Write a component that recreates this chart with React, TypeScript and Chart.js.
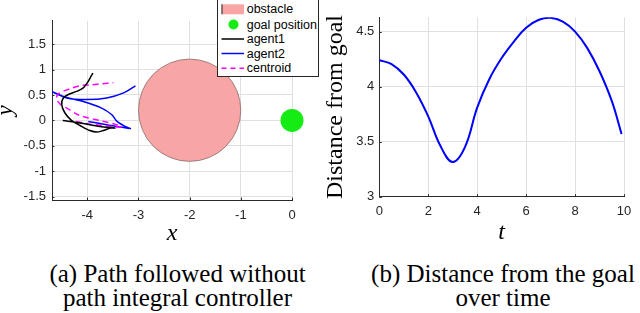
import React, { useEffect, useRef } from "react";
import { Chart, registerables } from "chart.js";

Chart.register(...registerables);

// ---------- (a) path plot data ----------
const agent1X = [-4.48, -4.14, -3.75, -3.46, -3.55, -3.69, -3.82, -3.95, -4.14, -4.31, -4.44, -4.5, -4.47, -4.37, -4.21, -4.08, -3.98, -3.92, -3.89];
const agent1Y = [0.0, -0.05, -0.12, -0.15, -0.15, -0.2, -0.23, -0.2, -0.1, 0.0, 0.15, 0.31, 0.44, 0.51, 0.57, 0.64, 0.77, 0.88, 0.93];

const agent2X = [-3.98, -3.6, -3.16, -3.26, -3.42, -3.52, -3.72, -4.08, -4.47, -4.76, -4.4, -4.01, -3.62, -3.29, -3.06];
const agent2Y = [-0.02, -0.09, -0.16, -0.12, -0.02, 0.11, 0.24, 0.37, 0.47, 0.6, 0.44, 0.41, 0.44, 0.54, 0.68];

const centroidX = [-4.22, -3.98, -3.6, -3.33, -3.45, -3.72, -3.98, -4.18, -4.4, -4.52, -4.6, -4.57, -4.34, -4.11, -3.91, -3.72, -3.49];
const centroidY = [-0.02, -0.07, -0.11, -0.13, -0.08, -0.01, 0.05, 0.11, 0.24, 0.31, 0.42, 0.52, 0.62, 0.69, 0.7, 0.72, 0.74];

const obstacleCenter = [-2, 0.2];
const obstacleRadius = 1;
const goalPosition = [0, 0];

const pathXTicks = [-4, -3, -2, -1, 0];
const pathYTicks = [-1.5, -1, -0.5, 0, 0.5, 1, 1.5];
const pathXRange = [-4.69, 0];
const pathYRange = [-1.565, 1.96];

// ---------- (b) distance plot data ----------
const timeValues = [0, 0.5, 1, 1.5, 2, 2.5, 3, 3.5, 4, 4.5, 5, 5.5, 6, 6.5, 7, 7.5, 8, 8.5, 9, 9.5, 9.9];
const distanceValues = [4.24, 4.205, 4.11, 3.95, 3.73, 3.46, 3.315, 3.45, 3.81, 4.07, 4.26, 4.41, 4.535, 4.605, 4.625, 4.59, 4.5, 4.35, 4.14, 3.87, 3.57];
const timeTicks = [0, 2, 4, 6, 8, 10];
const distanceTicks = [3, 3.5, 4, 4.5];

const TICK_FONT = { family: "'Liberation Sans', Arial, sans-serif", size: 13 };
const TICK_COLOR = "#262626";
const GRID_COLOR = "#e0e0e0";
const AXIS_COLOR = "#2b2b2b";

function pts(xs: number[], ys: number[]) {
  return xs.map((x, i) => ({ x, y: ys[i] }));
}

function fixedTicks(values: number[]) {
  return (scale: any) => {
    scale.ticks = values.map((v) => ({ value: v }));
  };
}

// MATLAB-style small tick marks pointing inside the axes
const innerTicks = {
  id: "innerTicks",
  afterDatasetsDraw(chart: any) {
    const { ctx, chartArea, scales } = chart;
    ctx.save();
    ctx.strokeStyle = AXIS_COLOR;
    ctx.lineWidth = 1;
    ctx.beginPath();
    for (const t of scales.x.ticks) {
      const px = Math.round(scales.x.getPixelForValue(t.value)) + 0.5;
      ctx.moveTo(px, chartArea.bottom);
      ctx.lineTo(px, chartArea.bottom - 2.5);
    }
    for (const t of scales.y.ticks) {
      const py = Math.round(scales.y.getPixelForValue(t.value)) + 0.5;
      ctx.moveTo(chartArea.left, py);
      ctx.lineTo(chartArea.left + 2.5, py);
    }
    ctx.stroke();
    ctx.restore();
  },
};

export default function App() {
  const leftRef = useRef<HTMLCanvasElement | null>(null);
  const rightRef = useRef<HTMLCanvasElement | null>(null);

  useEffect(() => {
    const left = new Chart(leftRef.current as HTMLCanvasElement, {
      type: "scatter",
      plugins: [innerTicks],
      data: {
        datasets: [
          {
            label: "goal position",
            data: [{ x: goalPosition[0], y: goalPosition[1] }],
            pointRadius: 11.5,
            pointBackgroundColor: "rgb(20,236,20)",
            pointBorderColor: "rgb(20,236,20)",
            pointBorderWidth: 0,
            clip: false as any,
          },
          {
            label: "agent1",
            data: pts(agent1X, agent1Y),
            showLine: true,
            pointRadius: 0,
            borderColor: "#000000",
            borderWidth: 1.5,
            tension: 0.3,
          },
          {
            label: "centroid",
            data: pts(centroidX, centroidY),
            showLine: true,
            pointRadius: 0,
            borderColor: "#ff00ff",
            borderWidth: 1.5,
            borderDash: [6, 4],
            tension: 0.3,
          },
          {
            label: "agent2",
            data: pts(agent2X, agent2Y),
            showLine: true,
            pointRadius: 0,
            borderColor: "#0000ff",
            borderWidth: 1.5,
            tension: 0.3,
          },
          {
            label: "obstacle",
            data: [{ x: obstacleCenter[0], y: obstacleCenter[1] }],
            pointRadius: (ctx: any) => {
              const s = ctx.chart.scales.x;
              return Math.abs(
                s.getPixelForValue(obstacleCenter[0] + obstacleRadius) - s.getPixelForValue(obstacleCenter[0])
              );
            },
            pointBackgroundColor: "#f8a5a5",
            pointBorderColor: "rgba(60,60,60,0.6)",
            pointBorderWidth: 0.8,
            clip: false as any,
          },
        ],
      },
      options: {
        animation: false,
        responsive: false,
        events: [],
        layout: { padding: { top: 20.7, right: 28, left: 0, bottom: 0 } },
        plugins: { legend: { display: false }, tooltip: { enabled: false } },
        scales: {
          x: {
            type: "linear",
            min: pathXRange[0],
            max: pathXRange[1],
            afterBuildTicks: fixedTicks(pathXTicks),
            afterFit: (s: any) => {
              s.height = 50;
            },
            grid: { color: GRID_COLOR, drawTicks: false },
            border: { color: AXIS_COLOR, width: 1 },
            ticks: {
              font: TICK_FONT,
              color: TICK_COLOR,
              padding: 8,
              autoSkip: false,
              maxRotation: 0,
              callback: (v: any) => String(v),
            },
            title: {
              display: true,
              text: "x",
              color: "#000",
              font: { family: "'Liberation Serif', serif", style: "italic", size: 24, lineHeight: 1 },
              padding: { top: 0, bottom: 4.4 },
            },
          },
          y: {
            type: "linear",
            min: pathYRange[0],
            max: pathYRange[1],
            afterBuildTicks: fixedTicks(pathYTicks),
            afterFit: (s: any) => {
              s.width = 52;
            },
            grid: { color: GRID_COLOR, drawTicks: false },
            border: { color: AXIS_COLOR, width: 1 },
            ticks: {
              font: TICK_FONT,
              color: TICK_COLOR,
              padding: 6,
              autoSkip: false,
              callback: (v: any) => String(v),
            },
            title: {
              display: true,
              text: "y",
              color: "#000",
              font: { family: "'Liberation Serif', serif", style: "italic", size: 23, lineHeight: 0.5 },
              padding: { top: 0, bottom: 0 },
            },
          },
        },
      } as any,
    });

    const right = new Chart(rightRef.current as HTMLCanvasElement, {
      type: "scatter",
      plugins: [innerTicks],
      data: {
        datasets: [
          {
            label: "distance",
            data: pts(timeValues, distanceValues),
            showLine: true,
            pointRadius: 0,
            borderColor: "#0000ff",
            borderWidth: 2,
            tension: 0.4,
          },
        ],
      },
      options: {
        animation: false,
        responsive: false,
        events: [],
        layout: { padding: { top: 17.3, right: 16, left: 0, bottom: 0 } },
        plugins: { legend: { display: false }, tooltip: { enabled: false } },
        scales: {
          x: {
            type: "linear",
            min: 0,
            max: 10,
            afterBuildTicks: fixedTicks(timeTicks),
            afterFit: (s: any) => {
              s.height = 53.3;
            },
            grid: { color: GRID_COLOR, drawTicks: false },
            border: { color: AXIS_COLOR, width: 1 },
            ticks: {
              font: TICK_FONT,
              color: TICK_COLOR,
              padding: 7,
              autoSkip: false,
              maxRotation: 0,
              callback: (v: any) => String(v),
            },
            title: {
              display: true,
              text: "t",
              color: "#000",
              font: { family: "'Liberation Serif', serif", style: "italic", size: 24, lineHeight: 1 },
              padding: { top: 0, bottom: 5.7 },
            },
          },
          y: {
            type: "linear",
            min: 3,
            max: 4.63,
            afterBuildTicks: fixedTicks(distanceTicks),
            afterFit: (s: any) => {
              s.width = 59.3;
            },
            grid: { color: GRID_COLOR, drawTicks: false },
            border: { color: AXIS_COLOR, width: 1 },
            ticks: {
              font: TICK_FONT,
              color: TICK_COLOR,
              padding: 5,
              autoSkip: false,
              callback: (v: any) => String(v),
            },
            title: {
              display: true,
              text: "Distance from goal",
              color: "#000",
              font: { family: "'Liberation Serif', serif", size: 24, lineHeight: 1 },
              padding: { top: 4, bottom: 0 },
            },
          },
        },
      } as any,
    });

    return () => {
      left.destroy();
      right.destroy();
    };
  }, []);

  const legendText: React.CSSProperties = {
    position: "absolute",
    left: 28.7,
    height: 14,
    lineHeight: "14px",
    fontFamily: "'Liberation Sans', Arial, sans-serif",
    fontSize: 12.5,
    color: "#000",
    whiteSpace: "nowrap",
  };

  const caption: React.CSSProperties = {
    position: "absolute",
    width: 320,
    textAlign: "center",
    fontFamily: "'Liberation Serif', 'Times New Roman', serif",
    fontSize: 25,
    lineHeight: "24px",
    whiteSpace: "nowrap",
    color: "#000",
  };

  return (
    <div
      style={{
        position: "fixed",
        left: 0,
        top: 0,
        width: 640,
        height: 313,
        overflow: "hidden",
        background: "#fff",
      }}
    >
      <canvas
        ref={leftRef}
        width={320}
        height={250}
        style={{ position: "absolute", left: 0, top: 0, width: 320, height: 250 }}
      />
      <canvas
        ref={rightRef}
        width={320}
        height={250}
        style={{ position: "absolute", left: 320, top: 0, width: 320, height: 250 }}
      />
      <div
        style={{
          position: "absolute",
          left: 217,
          top: -1,
          width: 102,
          height: 78,
          boxSizing: "border-box",
          border: "1px solid #262626",
          background: "#fff",
        }}
      >
        <svg width={30} height={76} style={{ position: "absolute", left: 0, top: 0 }}>
          <rect x={3.5} y={4.3} width={22.6} height={10} fill="#f8a5a5" />
          <line x1={4} y1={4.3} x2={4} y2={14.3} stroke="#444" strokeWidth={1.2} />
          <circle cx={15.5} cy={24.5} r={5} fill="rgb(20,236,20)" />
          <line x1={3.5} y1={39} x2={26} y2={39} stroke="#000" strokeWidth={1.5} />
          <line x1={3.5} y1={53.5} x2={26} y2={53.5} stroke="#0000ff" strokeWidth={1.5} />
          <line x1={3.5} y1={68.3} x2={26} y2={68.3} stroke="#ff00ff" strokeWidth={1.5} strokeDasharray="5 4" />
        </svg>
        <div style={{ ...legendText, top: 2.3 }}>obstacle</div>
        <div style={{ ...legendText, top: 17.5 }}>goal position</div>
        <div style={{ ...legendText, top: 32 }}>agent1</div>
        <div style={{ ...legendText, top: 46.5 }}>agent2</div>
        <div style={{ ...legendText, top: 61.3 }}>centroid</div>
      </div>
      <div style={{ ...caption, left: 17.5, top: 261.6 }}>
        (a) Path followed without
        <br />
        path integral controller
      </div>
      <div style={{ ...caption, left: 343, top: 261.6 }}>
        (b) Distance from the goal
        <br />
        over time
      </div>
    </div>
  );
}
